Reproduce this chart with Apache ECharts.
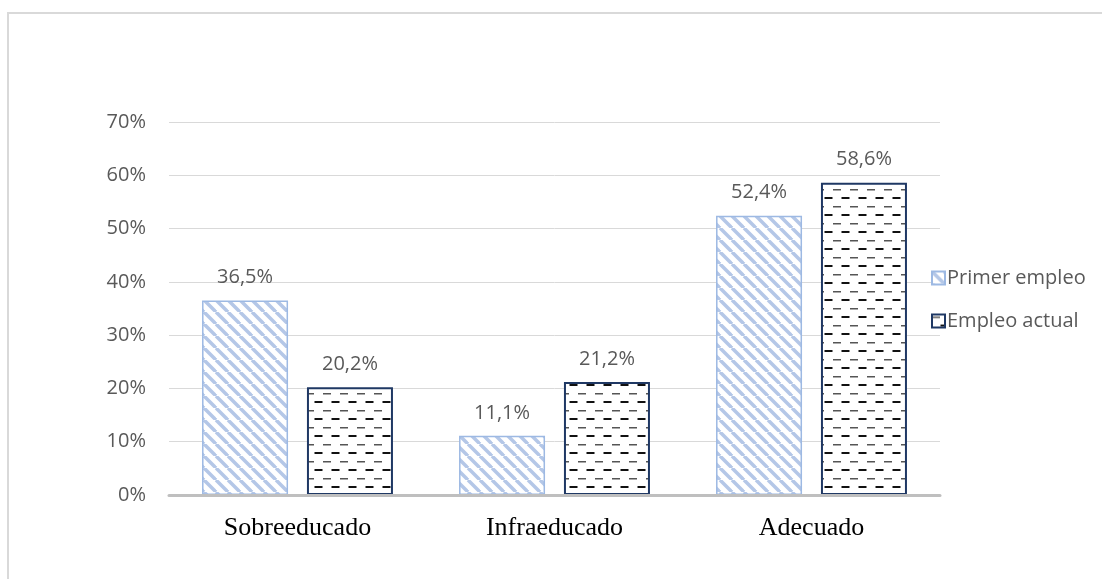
<!DOCTYPE html>
<html lang="es">
<head>
    <meta charset="utf-8">
    <title>Primer empleo vs empleo actual</title>
    <script src="https://cdn.jsdelivr.net/npm/echarts@6/dist/echarts.min.js"></script>
    <style>
        html, body { margin: 0; padding: 0; background: #fff; }
        #chart { width: 1102px; height: 579px; }
    </style>
</head>
<body>
    <div id="chart"></div>
    <script type="text/javascript">
        let categories = ['Sobreeducado', 'Infraeducado', 'Adecuado'];
        let seriesNames = ['Primer empleo', 'Empleo actual'];
        let primerEmpleo = [36.5, 11.1, 52.4];
        let empleoActual = [20.2, 21.2, 58.6];
        let yTicks = [0, 10, 20, 30, 40, 50, 60, 70];

        // diagonal light blue stripes
        function stripePattern(){
            let c = document.createElement('canvas');
            c.width = 12; c.height = 12;
            let ctx = c.getContext('2d');
            ctx.fillStyle = '#ffffff';
            ctx.fillRect(0, 0, 12, 12);
            ctx.strokeStyle = '#B4C7E7';
            ctx.lineWidth = 3.5;
            [-12, 0, 12].forEach((x) => {
                ctx.beginPath();
                ctx.moveTo(x, 0);
                ctx.lineTo(x + 12, 12);
                ctx.stroke();
            });
            return c;
        }

        // horizontal dashes, alternate rows offset
        function dashPattern(){
            let c = document.createElement('canvas');
            c.width = 17; c.height = 17;
            let ctx = c.getContext('2d');
            ctx.fillStyle = '#ffffff';
            ctx.fillRect(0, 0, 17, 17);
            ctx.fillStyle = '#555555';
            ctx.fillRect(0, 2, 8, 1.5);
            ctx.fillStyle = '#111111';
            ctx.fillRect(8.5, 10, 8, 2);
            return c;
        }

        function fmt(p){
            return p.value.toFixed(1).replace('.', ',') + '%';
        }

        let labelStyle = {
            show: true,
            position: 'top',
            distance: 13,
            formatter: fmt,
            color: '#595959',
            fontFamily: 'Open Sans',
            fontSize: 20
        };

        let Chart = echarts.init(document.getElementById('chart'));

        let option = {
            animation: false,
            graphic: [{
                type: 'rect',
                shape: { x: 8, y: 13, width: 1200, height: 700 },
                style: { fill: 'none', stroke: '#D9D9D9', lineWidth: 2 },
                silent: true
            }],
            grid: { left: 169, right: 162, top: 122, bottom: 84 },
            legend: {
                data: seriesNames,
                orient: 'vertical',
                left: 926,
                top: 263,
                itemWidth: 13,
                itemHeight: 13,
                itemGap: 23,
                icon: 'rect',
                textStyle: { color: '#595959', fontFamily: 'Open Sans', fontSize: 20, padding: [0, 0, 0, -3] }
            },
            xAxis: {
                type: 'category',
                data: categories,
                z: 5,
                axisLine: { lineStyle: { color: '#BFBFBF', width: 3 } },
                axisTick: { show: false },
                axisLabel: {
                    color: '#000000',
                    fontFamily: 'Liberation Serif',
                    fontSize: 26,
                    margin: 20
                }
            },
            yAxis: {
                type: 'value',
                min: yTicks[0],
                max: yTicks[yTicks.length - 1],
                interval: 10,
                axisLine: { show: false },
                axisTick: { show: false },
                splitLine: { lineStyle: { color: '#D9D9D9', width: 1 } },
                axisLabel: {
                    formatter: '{value}%',
                    color: '#595959',
                    fontFamily: 'Open Sans',
                    fontSize: 20,
                    margin: 23
                }
            },
            series: [{
                name: seriesNames[0],
                type: 'bar',
                data: primerEmpleo,
                barWidth: 86,
                barGap: '22%',
                itemStyle: {
                    color: { image: stripePattern(), repeat: 'repeat' },
                    borderColor: '#9DB9E3',
                    borderWidth: 1.5
                },
                label: labelStyle
            }, {
                name: seriesNames[1],
                type: 'bar',
                data: empleoActual,
                barWidth: 86,
                barGap: '22%',
                itemStyle: {
                    color: { image: dashPattern(), repeat: 'repeat' },
                    borderColor: '#1F3864',
                    borderWidth: 2
                },
                label: labelStyle
            }]
        };

        Chart.setOption(option);
    </script>
</body>
</html>
